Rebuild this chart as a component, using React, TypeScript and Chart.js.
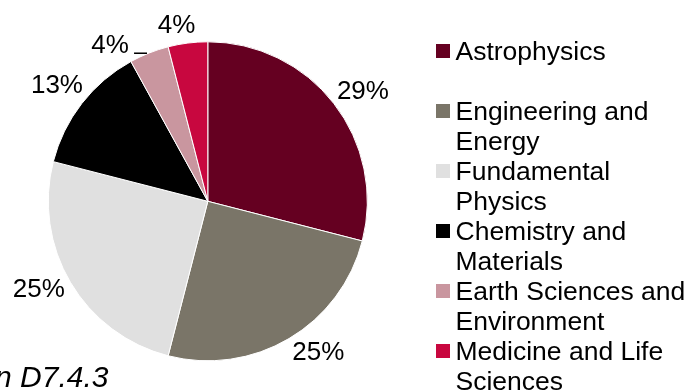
import React, { useEffect, useRef } from "react";
import { Chart, registerables } from "chart.js";

Chart.register(...registerables);

const categories = [
  "Astrophysics",
  "Engineering and Energy",
  "Fundamental Physics",
  "Chemistry and Materials",
  "Earth Sciences and Environment",
  "Medicine and Life Sciences",
];
const shares = [29, 25, 25, 13, 4, 4];
const sliceLabels = ["29%", "25%", "25%", "13%", "4%", "4%"];
const colors = ["#650021", "#7A7568", "#E0E0E0", "#000000", "#C9969F", "#C8073F"];
const footnote = "in D7.4.3";

const FONT = '26px "Liberation Sans", Arial, sans-serif';
const LEGEND_FONT = '26.5px "Liberation Sans", Arial, sans-serif';

// label placement tuning: [radius factor, angle nudge in degrees]
const labelPlace: [number, number][] = [
  [1.196, 2.2],
  [1.163, -5.95],
  [1.189, 3.56],
  [1.197, 0],
  [1.16, -10.3],
  [1.131, -2.8],
];

const labelsPlugin = {
  id: "sliceLabels",
  afterDatasetsDraw(chart: any) {
    const ctx = chart.ctx;
    const meta = chart.getDatasetMeta(0);
    ctx.save();
    ctx.font = FONT;
    ctx.fillStyle = "#000";
    ctx.textAlign = "center";
    ctx.textBaseline = "alphabetic";
    meta.data.forEach((arc: any, i: number) => {
      const { x, y, startAngle, endAngle, outerRadius } = arc.getProps(
        ["x", "y", "startAngle", "endAngle", "outerRadius"],
        true
      );
      const [k, nudge] = labelPlace[i];
      const mid = (startAngle + endAngle) / 2 + (nudge * Math.PI) / 180;
      const lx = x + Math.cos(mid) * outerRadius * k;
      const ly = y + Math.sin(mid) * outerRadius * k;
      ctx.fillText(sliceLabels[i], lx, ly + 9.2);
      if (i === 4) {
        ctx.beginPath();
        ctx.strokeStyle = "#000";
        ctx.lineWidth = 1.5;
        ctx.moveTo(lx + 24, ly + 9);
        ctx.lineTo(lx + 37, ly + 9);
        ctx.stroke();
      }
    });
    ctx.restore();
  },
};

function wrap(ctx: CanvasRenderingContext2D, text: string, maxW: number): string[] {
  const words = text.split(" ");
  const lines: string[] = [];
  let cur = "";
  for (const w of words) {
    const t = cur ? cur + " " + w : w;
    if (ctx.measureText(t).width > maxW && cur) {
      lines.push(cur);
      cur = w;
    } else cur = t;
  }
  if (cur) lines.push(cur);
  return lines;
}

const legendPlugin = {
  id: "customLegend",
  afterDraw(chart: any) {
    const ctx = chart.ctx;
    ctx.save();
    ctx.font = LEGEND_FONT;
    ctx.textAlign = "left";
    ctx.textBaseline = "alphabetic";
    const textX = 455.5;
    const boxX = 436;
    const firstBase = 60;
    const lineH = 30;
    categories.forEach((name, i) => {
      const base = firstBase + i * 2 * lineH;
      ctx.fillStyle = colors[i];
      ctx.fillRect(boxX, base - 16, 14, 14);
      ctx.fillStyle = "#000";
      const lines = wrap(ctx, name, 234);
      lines.forEach((ln, j) => ctx.fillText(ln, textX, base + j * lineH));
    });
    // footnote (partially cut on the left, as in the source)
    ctx.font = 'italic 30px "Liberation Sans", Arial, sans-serif';
    ctx.textAlign = "right";
    ctx.fillText(footnote, 108.5, 387);
    ctx.restore();
  },
};

export default function App() {
  const ref = useRef<HTMLCanvasElement>(null);
  useEffect(() => {
    if (!ref.current) return;
    const chart = new Chart(ref.current, {
      type: "pie",
      data: {
        labels: categories,
        datasets: [
          {
            data: shares,
            backgroundColor: colors,
            borderColor: "#ffffff",
            borderWidth: 1,
          },
        ],
      },
      options: {
        responsive: false,
        animation: false,
        devicePixelRatio: 1,
        layout: { padding: { left: 47.8, top: 41.3, right: 323.2, bottom: 30.7 } },
        plugins: {
          legend: { display: false },
          tooltip: { enabled: false },
        },
      },
      plugins: [labelsPlugin, legendPlugin],
    });
    return () => chart.destroy();
  }, []);
  return (
    <div style={{ position: "absolute", left: 0, top: 0, width: 691, height: 392, background: "#fff" }}>
      <canvas ref={ref} width={691} height={392} style={{ display: "block" }} />
    </div>
  );
}
